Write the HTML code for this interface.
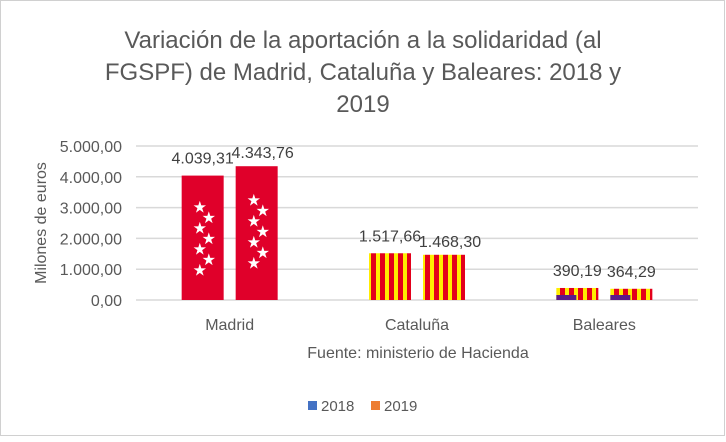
<!DOCTYPE html>
<html><head><meta charset="utf-8"><style>
body{margin:0;background:#fff;font-family:"Liberation Sans",sans-serif}
svg text{font-family:"Liberation Sans",sans-serif}
</style></head><body>
<svg id="c" width="726" height="437" xmlns="http://www.w3.org/2000/svg">
<rect x="0.5" y="0.5" width="724" height="435" fill="#fff" stroke="#d0d0d0"/>
<defs>
<pattern id="cat" width="9" height="10" patternUnits="userSpaceOnUse"><rect width="9" height="10" fill="#ffed00"/><rect x="2" width="5" height="10" fill="#e3001b"/></pattern>
</defs>
<g fill="#595959" font-size="24" text-anchor="middle">
<text x="363" y="48">Variación de la aportación a la solidaridad (al</text>
<text x="363" y="80">FGSPF) de Madrid, Cataluña y Baleares: 2018 y</text>
<text x="363" y="112">2019</text>
</g>
<text transform="translate(46,223) rotate(-90)" text-anchor="middle" font-size="16" fill="#595959">Milones de euros</text>
<g id="grid"></g><g id="bars"></g><g id="labels"></g>
<text x="418" y="358" text-anchor="middle" font-size="16" fill="#595959">Fuente: ministerio de Hacienda</text>
<g font-size="15" fill="#595959">
<rect x="308" y="401" width="9" height="9" fill="#4472c4"/>
<text x="321" y="411">2018</text>
<rect x="371" y="401" width="9" height="9" fill="#ed7d31"/>
<text x="384" y="411">2019</text>
</g>
</svg>
<script>
const categories=["Madrid","Cataluña","Baleares"];
const values2018=[4039.31,1517.66,390.19];
const values2019=[4343.76,1468.30,364.29];
const labels2018=["4.039,31","1.517,66","390,19"];
const labels2019=["4.343,76","1.468,30","364,29"];
const ticks=[0,1000,2000,3000,4000,5000];
const tickLabels=["0,00","1.000,00","2.000,00","3.000,00","4.000,00","5.000,00"];
const NS="http://www.w3.org/2000/svg";
const x0=136,x1=698,y0=300,y5=146;
const y=v=>y0-(v/5000)*(y0-y5);
const cw=(x1-x0)/categories.length;
function mk(t,a,p){const e=document.createElementNS(NS,t);for(const k in a)e.setAttribute(k,a[k]);p.appendChild(e);return e;}
const g=document.getElementById('grid'),b=document.getElementById('bars'),l=document.getElementById('labels');
ticks.forEach((t,i)=>{
 const ln=mk('line',{x1:x0,x2:x1,y1:y(t),y2:y(t),stroke:'#d9d9d9','stroke-width':1.5},g);
 
 
 const tx=mk('text',{x:122,y:y(t)+6,'text-anchor':'end','font-size':16,fill:'#595959'},g);
 tx.textContent=tickLabels[i];
 
 
});
const fills=["#e0002a","url(#cat)","url(#cat)"];
categories.forEach((c,i)=>{
 const cx=x0+cw*(i+0.5);
 [[values2018,labels2018,cx-48],[values2019,labels2019,cx+6]].forEach(([vals,labs,bx],s)=>{
  const top=y(vals[i]);
  const r=mk('rect',{x:bx,y:top,width:42,height:y0-top,fill:fills[i]},b);
  
  
  if(i==0){
   for(let k=0;k<7;k++){
    const st=mk('text',{x:bx+11+(k%2)*9,y:y(vals[i]*0.75)+k*10.5+6,'font-size':16,fill:'#fff'},b);
    st.textContent='★';
    
    
   }
  }
  if(i==2){
   const p=mk('rect',{x:bx,y:y0-5,width:20,height:5,fill:'#5a1a8a'},b);
   
   
  }
  const t=mk('text',{x:bx+21+(s&&i<2?6:0),y:top-(s&&i<2?8:12),'text-anchor':'middle','font-size':16,fill:'#404040'},l);
  t.textContent=labs[i];
  
  
 });
 const ct=mk('text',{x:cx,y:330,'text-anchor':'middle','font-size':16,fill:'#595959'},l);
 ct.textContent=c;
 
 
});
</script>
</body></html>
